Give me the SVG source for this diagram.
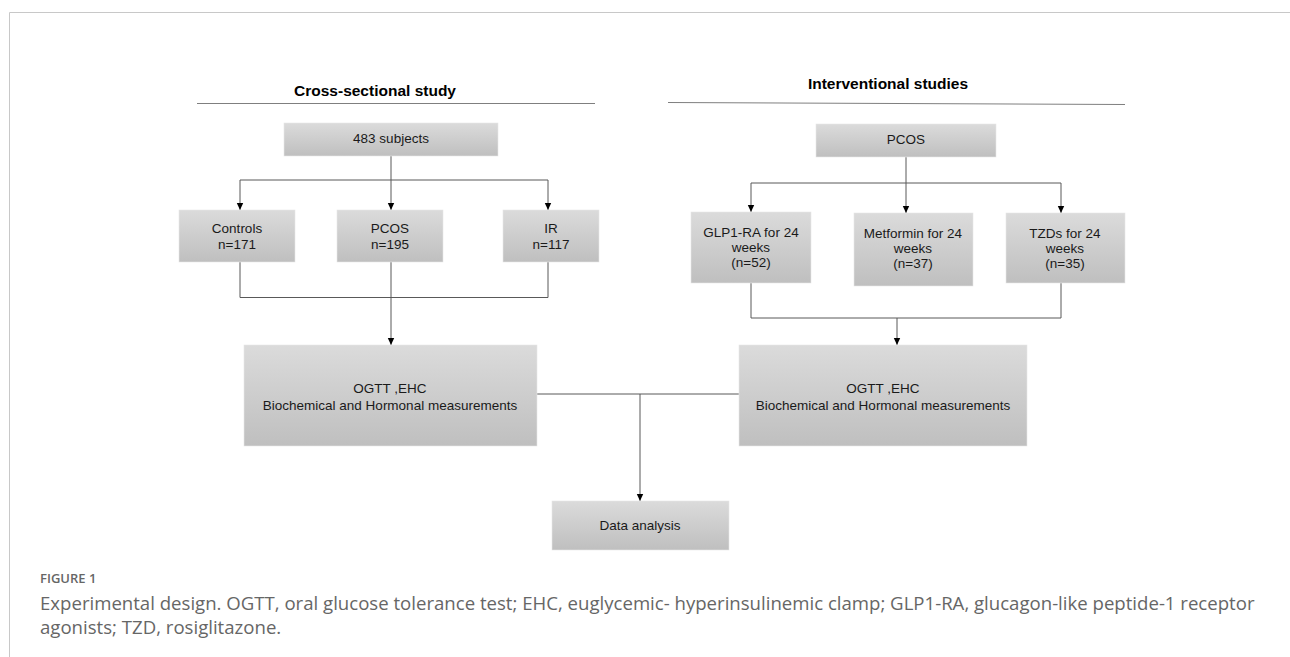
<svg xmlns="http://www.w3.org/2000/svg" width="1290" height="657" viewBox="0 0 1290 657">
<defs>
<linearGradient id="g" x1="0" y1="0" x2="0" y2="1">
<stop offset="0" stop-color="#dbdbdb"/>
<stop offset="1" stop-color="#bfbfbf"/>
</linearGradient>
<marker id="ah" markerWidth="8" markerHeight="8" refX="7" refY="4" orient="auto" markerUnits="userSpaceOnUse">
<path d="M0,0.8 L7,4 L0,7.2 Z" fill="#000"/>
</marker>
<style>
.box{fill:url(#g);stroke:#e6e6e6;stroke-width:0.6}
.t{font-family:"Liberation Sans",Arial,sans-serif;font-size:13.5px;fill:#1a1a1a;text-anchor:middle}
.h{font-family:"Liberation Sans",Arial,sans-serif;font-size:15.5px;font-weight:bold;fill:#000;text-anchor:middle}
.c{fill:none;stroke:#595959;stroke-width:1}
.a{marker-end:url(#ah)}
.cap{font-family:"Open Sans","Noto Sans",sans-serif;fill:#666}
</style>
</defs>
<rect width="1290" height="657" fill="#fff"/>
<path d="M9.5,657 V12.5 H1290" fill="none" stroke="#c8c8c8" stroke-width="1"/>

<g id="header-left">
<text class="h" x="375" y="96">Cross-sectional study</text>
<line x1="197" y1="103.5" x2="595" y2="103.5" stroke="#7f7f7f" stroke-width="1"/>
</g>
<g id="header-right">
<text class="h" x="888" y="89">Interventional studies</text>
<line x1="668" y1="102.5" x2="1125" y2="104.5" stroke="#7f7f7f" stroke-width="1"/>
</g>

<g id="connectors">
<path class="c" d="M391,156 V180 M240,180 H548"/>
<path class="c a" d="M240,180 V210"/>
<path class="c a" d="M391,180 V210"/>
<path class="c a" d="M548,180 V210"/>
<path class="c" d="M240,262 V297.5 H548 V262"/>
<path class="c a" d="M391,262 V345"/>
<path class="c" d="M906,157 V183 M751,183 H1061"/>
<path class="c a" d="M751,183 V212"/>
<path class="c a" d="M906,183 V213"/>
<path class="c a" d="M1061,183 V213"/>
<path class="c" d="M751,283 V318 H1061 V283"/>
<path class="c a" d="M897,318 V345"/>
<path class="c" d="M537,394 H739"/>
<path class="c a" d="M640,394 V501"/>
</g>

<g id="n483">
<rect class="box" x="284" y="123" width="214" height="33"/>
<text class="t" x="391" y="143">483 subjects</text>
</g>
<g id="controls">
<rect class="box" x="179" y="210" width="116" height="52"/>
<text class="t" x="237" y="233">Controls</text>
<text class="t" x="237" y="249">n=171</text>
</g>
<g id="pcos-left">
<rect class="box" x="337" y="210" width="106" height="52"/>
<text class="t" x="390" y="233">PCOS</text>
<text class="t" x="390" y="249">n=195</text>
</g>
<g id="ir">
<rect class="box" x="503" y="210" width="96" height="52"/>
<text class="t" x="551" y="233">IR</text>
<text class="t" x="551" y="249">n=117</text>
</g>

<g id="pcos-right">
<rect class="box" x="816" y="124" width="180" height="33"/>
<text class="t" x="906" y="144">PCOS</text>
</g>
<g id="glp1">
<rect class="box" x="691" y="212" width="120" height="71"/>
<text class="t" x="751" y="237">GLP1-RA for 24</text>
<text class="t" x="751" y="252">weeks</text>
<text class="t" x="751" y="267">(n=52)</text>
</g>
<g id="metformin">
<rect class="box" x="854" y="213" width="119" height="73"/>
<text class="t" x="913" y="238">Metformin for 24</text>
<text class="t" x="913" y="253">weeks</text>
<text class="t" x="913" y="268">(n=37)</text>
</g>
<g id="tzd">
<rect class="box" x="1006" y="213" width="119" height="70"/>
<text class="t" x="1065" y="238">TZDs for 24</text>
<text class="t" x="1065" y="253">weeks</text>
<text class="t" x="1065" y="268">(n=35)</text>
</g>

<g id="measure-left">
<rect class="box" x="244" y="345" width="293" height="101"/>
<text class="t" x="390" y="393">OGTT ,EHC</text>
<text class="t" x="390" y="410">Biochemical and Hormonal measurements</text>
</g>
<g id="measure-right">
<rect class="box" x="739" y="345" width="288" height="101"/>
<text class="t" x="883" y="393">OGTT ,EHC</text>
<text class="t" x="883" y="410">Biochemical and Hormonal measurements</text>
</g>
<g id="data">
<rect class="box" x="552" y="501" width="177" height="49"/>
<text class="t" x="640" y="530">Data analysis</text>
</g>

<g id="caption">
<text class="cap" x="40" y="583" font-size="13" font-weight="600">FIGURE 1</text>
<text class="cap" x="40" y="610" font-size="18.6">Experimental design. OGTT, oral glucose tolerance test; EHC, euglycemic- hyperinsulinemic clamp; GLP1-RA, glucagon-like peptide-1 receptor</text>
<text class="cap" x="40" y="634" font-size="18.6">agonists; TZD, rosiglitazone.</text>
</g>
</svg>
